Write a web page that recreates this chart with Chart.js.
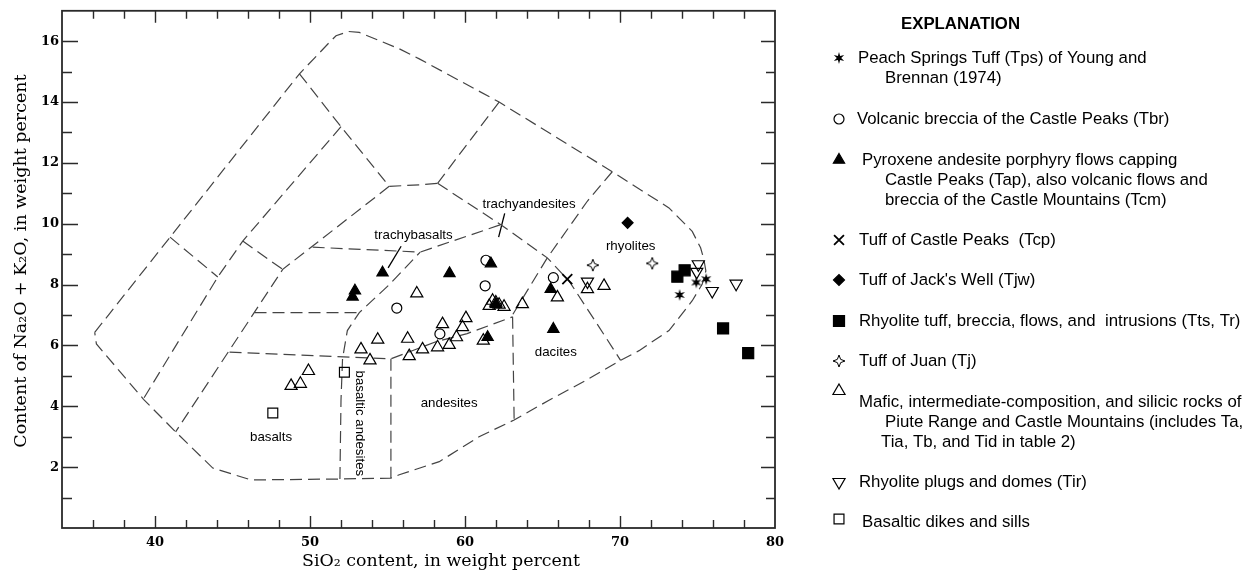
<!DOCTYPE html>
<html>
<head>
<meta charset="utf-8">
<script src="https://cdn.jsdelivr.net/npm/chart.js@4/dist/chart.umd.min.js"></script>
<style>
  html, body { margin: 0; padding: 0; background: #fff; }
  #wrap { width: 1255px; height: 575px; }
</style>
</head>
<body>
<div id="wrap"><canvas id="tas"></canvas></div>
<script>
// analyses: [SiO2, Na2O + K2O] in weight percent
var peachSprings = [[73.85, 7.66], [74.92, 8.07], [75.56, 8.18]];
var castleBreccia = [[55.6, 7.23], [58.38, 6.38], [61.35, 8.8], [61.3, 7.96], [65.7, 8.23]];
var pyroxeneAndesite = [[52.75, 7.6], [52.9, 7.8], [54.68, 8.39], [59.0, 8.37], [61.67, 8.69],
                        [61.99, 7.36], [61.46, 6.27], [65.53, 7.85], [65.7, 6.54]];
var tuffCastlePeaks = [[66.6, 8.18]];
var tuffJacksWell = [[70.49, 10.03]];
var rhyoliteTuff = [[73.7, 8.26], [74.17, 8.47], [76.65, 6.56], [78.27, 5.75]];
var tuffJuan = [[68.25, 8.64], [72.08, 8.7]];
var maficRocks = [[48.78, 4.67], [49.38, 4.74], [49.9, 5.16], [53.29, 5.87], [53.87, 5.51], [54.37, 6.19],
                  [56.3, 6.22], [56.4, 5.65], [56.89, 7.71], [57.26, 5.87], [58.23, 5.94], [58.55, 6.7],
                  [58.98, 6.02], [59.45, 6.27], [59.84, 6.6], [60.06, 6.9], [61.18, 6.16], [61.56, 7.3],
                  [61.78, 7.47], [61.99, 7.41], [62.2, 7.34], [62.52, 7.27], [63.7, 7.36], [65.96, 7.58],
                  [67.9, 7.85], [68.97, 7.96]];
var rhyolitePlugs = [[67.9, 8.1], [75.05, 8.67], [74.95, 8.42], [75.95, 7.79], [77.49, 8.03]];
var basalticDikes = [[47.6, 3.78], [52.22, 5.12]];

// field boundaries of the classification diagram
var outerLine = [[36.11, 6.43], [49.32, 14.93], [51.25, 15.96], [51.68, 16.18], [52.49, 16.32],
                 [53.18, 16.29], [55.76, 15.75], [57.05, 15.42], [62.2, 14.0], [69.5, 11.71], [73.16, 10.52],
                 [74.66, 9.75], [75.2, 9.21], [75.41, 8.83], [75.54, 8.45], [75.3, 8.01], [74.66, 7.47],
                 [73.16, 6.49], [71.23, 5.83], [70.04, 5.51], [67.79, 4.85], [65.42, 4.2], [63.17, 3.55],
                 [60.91, 3.0], [58.34, 2.18], [55.76, 1.75], [55.22, 1.64], [51.9, 1.61], [46.2, 1.58],
                 [43.73, 1.97], [41.33, 3.16], [39.26, 4.23], [36.22, 6.05], [36.11, 6.43]];
var middleLine = [[52.0, 13.19], [45.66, 9.43], [44.05, 8.25], [39.26, 4.25]];
var tieLineA = [[40.97, 9.56], [44.05, 8.25]];
var tieLineB = [[45.66, 9.43], [48.24, 8.5]];
var upperLine = [[49.32, 14.93], [52.0, 13.19], [55.11, 11.23], [57.05, 11.28], [58.23, 11.33]];
var upperTie = [[62.2, 14.0], [58.23, 11.33]];
var trachyteLine = [[58.23, 11.33], [62.31, 9.97], [65.31, 8.88], [66.71, 8.12], [68.39, 6.81], [70.04, 5.51]];
var rhyoliteLine = [[69.5, 11.71], [67.89, 10.74], [65.31, 8.88], [63.06, 7.0]];
var basaltLine = [[55.11, 11.23], [48.24, 8.5], [41.33, 3.16]];
var trachybasaltTop = [[50.17, 9.23], [57.11, 9.07], [62.31, 9.97]];
var trachybasaltBase = [[46.42, 7.08], [53.18, 7.08]];
var alkaliCurve = [[51.93, 1.61], [52.0, 4.2], [52.1, 5.57], [52.41, 6.49], [53.18, 7.08], [55.12, 8.0], [57.11, 9.07]];
var basaltTop = [[44.81, 5.78], [55.22, 5.56], [58.12, 6.12], [60.14, 6.39], [63.07, 6.94]];
var line55 = [[55.22, 5.56], [55.22, 1.64]];
var line63 = [[63.07, 6.94], [63.17, 3.55]];

var fieldNames = ['trachyandesites', 'trachybasalts', 'rhyolites', 'dacites', 'andesites', 'basalts', 'basaltic andesites'];
var fieldAt = [[64.13, 10.63], [56.68, 9.62], [70.69, 9.26], [65.86, 5.78], [58.98, 4.11], [47.49, 2.98], [53.18, 3.44]];
var leaderLines = [[[62.56, 10.34], [62.17, 9.56]], [[55.88, 9.26], [55.04, 8.55]]];

var xTitle = 'SiO₂ content, in weight percent';
var yTitle = 'Content of Na₂O + K₂O, in weight percent';

var legendLines = [
    ['Peach Springs Tuff (Tps) of Young and', 'Brennan (1974)'],
    ['Volcanic breccia of the Castle Peaks (Tbr)'],
    ['Pyroxene andesite porphyry flows capping', 'Castle Peaks (Tap), also volcanic flows and', 'breccia of the Castle Mountains (Tcm)'],
    ['Tuff of Castle Peaks  (Tcp)'],
    ['Tuff of Jack\'s Well (Tjw)'],
    ['Rhyolite tuff, breccia, flows, and  intrusions (Tts, Tr)'],
    ['Tuff of Juan (Tj)'],
    ['Mafic, intermediate-composition, and silicic rocks of', 'Piute Range and Castle Mountains (includes Ta,', 'Tia, Tb, and Tid in table 2)'],
    ['Rhyolite plugs and domes (Tir)'],
    ['Basaltic dikes and sills']
];

function pts(arr) {
    return arr.map(function (p) { return { x: p[0], y: p[1] }; });
}

function makeStar(n, outer, inner, filled) {
    var size = Math.ceil(outer * 2 + 4);
    var c = document.createElement('canvas');
    c.width = size;
    c.height = size;
    var g = c.getContext('2d');
    g.translate(size / 2, size / 2);
    g.beginPath();
    for (var i = 0; i < n * 2; i++) {
        var r = i % 2 ? inner : outer;
        var a = -Math.PI / 2 + i * Math.PI / n;
        g.lineTo(r * Math.cos(a), r * Math.sin(a));
    }
    g.closePath();
    if (filled) {
        g.fillStyle = '#000';
        g.fill();
    } else {
        g.fillStyle = '#fff';
        g.fill();
        g.lineWidth = 1;
        g.strokeStyle = '#000';
        g.stroke();
    }
    return c;
}

var sixStar = makeStar(6, 6, 2.2, true);
var fourStar = makeStar(4, 6, 2.3, false);

function marker(label, data, style, radius, filled, rotation) {
    return {
        type: 'scatter',
        label: label,
        data: pts(data),
        showLine: false,
        order: 0,
        pointStyle: style,
        pointRadius: radius,
        pointHoverRadius: radius,
        pointRotation: rotation || 0,
        pointBorderColor: '#000',
        pointBackgroundColor: filled ? '#000' : 'rgba(0,0,0,0)',
        pointBorderWidth: style === 'crossRot' ? 1.8 : 1.2
    };
}

function boundary(data) {
    return {
        type: 'line',
        data: pts(data),
        showLine: true,
        order: 1,
        borderColor: '#444',
        borderWidth: 1.2,
        borderDash: [12, 6],
        pointRadius: 0,
        tension: 0,
        fill: false
    };
}

var markerSets = [
    marker('Peach Springs Tuff', peachSprings, sixStar, 6, true),
    marker('Volcanic breccia', castleBreccia, 'circle', 5, false),
    marker('Pyroxene andesite', pyroxeneAndesite, 'triangle', 6.5, true),
    marker('Tuff of Castle Peaks', tuffCastlePeaks, 'crossRot', 7, false),
    marker('Tuff of Jack\'s Well', tuffJacksWell, 'rectRot', 5.5, true),
    marker('Rhyolite tuff', rhyoliteTuff, 'rect', 7.8, true),
    marker('Tuff of Juan', tuffJuan, fourStar, 6, false),
    marker('Mafic rocks', maficRocks, 'triangle', 7, false),
    marker('Rhyolite plugs', rhyolitePlugs, 'triangle', 7, false, 180),
    marker('Basaltic dikes', basalticDikes, 'rect', 7, false)
];

var lineSets = [outerLine, middleLine, tieLineA, tieLineB, upperLine, upperTie, trachyteLine, rhyoliteLine,
                basaltLine, trachybasaltTop, trachybasaltBase, alkaliCurve, basaltTop, line55, line63].map(boundary);

function drawSymbol(ctx, ds, x, y) {
    ctx.save();
    ctx.strokeStyle = ds.pointBorderColor;
    ctx.fillStyle = ds.pointBackgroundColor;
    ctx.lineWidth = ds.pointBorderWidth;
    Chart.helpers.drawPoint(ctx, {
        pointStyle: ds.pointStyle,
        rotation: ds.pointRotation,
        radius: ds.pointRadius,
        borderWidth: ds.pointBorderWidth
    }, x, y);
    ctx.restore();
}

var serif = 'DejaVu Serif, "Liberation Serif", serif';
var sans = '"Liberation Sans", Arial, sans-serif';

var decorations = {
    id: 'decorations',
    beforeDatasetsDraw: function (chart) {
        var ctx = chart.ctx, xs = chart.scales.x, ys = chart.scales.y;
        ctx.save();
        ctx.fillStyle = '#000';
        ctx.font = '13.3px ' + sans;
        ctx.textAlign = 'center';
        ctx.textBaseline = 'middle';
        fieldNames.forEach(function (name, i) {
            var px = xs.getPixelForValue(fieldAt[i][0]);
            var py = ys.getPixelForValue(fieldAt[i][1]);
            if (name === 'basaltic andesites') {
                ctx.save();
                ctx.translate(px, py);
                ctx.rotate(Math.PI / 2);
                ctx.fillText(name, 0, 0);
                ctx.restore();
            } else {
                ctx.fillText(name, px, py);
            }
        });
        ctx.strokeStyle = '#000';
        ctx.lineWidth = 1.3;
        leaderLines.forEach(function (l) {
            ctx.beginPath();
            ctx.moveTo(xs.getPixelForValue(l[0][0]), ys.getPixelForValue(l[0][1]));
            ctx.lineTo(xs.getPixelForValue(l[1][0]), ys.getPixelForValue(l[1][1]));
            ctx.stroke();
        });
        ctx.restore();
    },
    afterDraw: function (chart) {
        var ctx = chart.ctx, a = chart.chartArea, xs = chart.scales.x, ys = chart.scales.y;
        ctx.save();
        ctx.strokeStyle = '#2a2a2a';
        ctx.lineWidth = 1.8;
        ctx.strokeRect(a.left, a.top, a.right - a.left, a.bottom - a.top);
        ctx.lineWidth = 1.4;
        ctx.beginPath();
        xs.ticks.forEach(function (t) {
            if (t.value <= xs.min || t.value >= xs.max) return;
            var px = Math.round(xs.getPixelForValue(t.value)) + 0.5;
            var len = t.value % 10 === 0 ? 12 : 8;
            ctx.moveTo(px, a.bottom); ctx.lineTo(px, a.bottom - len);
            ctx.moveTo(px, a.top); ctx.lineTo(px, a.top + len);
        });
        ys.ticks.forEach(function (t) {
            if (t.value <= ys.min || t.value >= ys.max) return;
            var py = Math.round(ys.getPixelForValue(t.value)) + 0.5;
            var major = t.value % 2 === 0;
            ctx.moveTo(a.left, py); ctx.lineTo(a.left + (major ? 16 : 10), py);
            ctx.moveTo(a.right, py); ctx.lineTo(a.right - (major ? 14 : 9), py);
        });
        ctx.stroke();

        // axis titles
        ctx.fillStyle = '#000';
        ctx.textAlign = 'center';
        ctx.textBaseline = 'middle';
        ctx.font = '17.4px ' + serif;
        ctx.fillText(xTitle, 441, 561);
        ctx.save();
        ctx.translate(21, 261);
        ctx.rotate(-Math.PI / 2);
        ctx.font = '17.5px ' + serif;
        ctx.fillText(yTitle, 0, 0);
        ctx.restore();

        // explanation
        ctx.textAlign = 'left';
        ctx.font = 'bold 16.8px ' + sans;
        ctx.fillText('EXPLANATION', 901, 24);
        ctx.font = '16.8px ' + sans;
        var rowY = [58, 119, 160, 240, 280, 321, 361, 402, 482, 522];
        var symY = [58, 119, 160, 240, 280, 321, 361, 391, 482, 519];
        var textX = [858, 857, 862, 859, 859, 859, 859, 859, 859, 862];
        var indentX = [885, 885, 885, 885, 885, 885, 885, 885, 885, 885];
        legendLines.forEach(function (lines, i) {
            drawSymbol(ctx, markerSets[i], 839, symY[i]);
            lines.forEach(function (txt, j) {
                var x = j === 0 ? textX[i] : indentX[i];
                if (i === 7 && j === 2) x = 881;
                ctx.fillText(txt, x, rowY[i] + j * 20.3);
            });
        });
        ctx.restore();
    }
};

new Chart(document.getElementById('tas').getContext('2d'), {
    data: { datasets: markerSets.concat(lineSets) },
    options: {
        responsive: true,
        maintainAspectRatio: false,
        animation: false,
        layout: { padding: { left: 0, top: 8, right: 480, bottom: 0 } },
        plugins: {
            legend: { display: false },
            tooltip: { enabled: false }
        },
        scales: {
            x: {
                type: 'linear',
                min: 34,
                max: 80,
                afterFit: function (s) { s.height = 47; },
                grid: { display: false, drawTicks: false },
                border: { display: false },
                ticks: {
                    stepSize: 2,
                    autoSkip: false,
                    maxRotation: 0,
                    padding: 7,
                    color: '#000',
                    font: { family: serif, weight: 'bold', size: 13 },
                    callback: function (v) { return v % 10 === 0 && v > 34 ? v : ''; }
                },
                title: { display: false }
            },
            y: {
                type: 'linear',
                min: 0,
                max: 17,
                afterFit: function (s) { s.width = 62; },
                grid: { display: false, drawTicks: false },
                border: { display: false },
                ticks: {
                    stepSize: 1,
                    autoSkip: false,
                    padding: 3,
                    color: '#000',
                    font: { family: serif, weight: 'bold', size: 13 },
                    callback: function (v) { return v % 2 === 0 && v > 0 ? v : ''; }
                },
                title: { display: false }
            }
        }
    },
    plugins: [decorations]
});
</script>
</body>
</html>
